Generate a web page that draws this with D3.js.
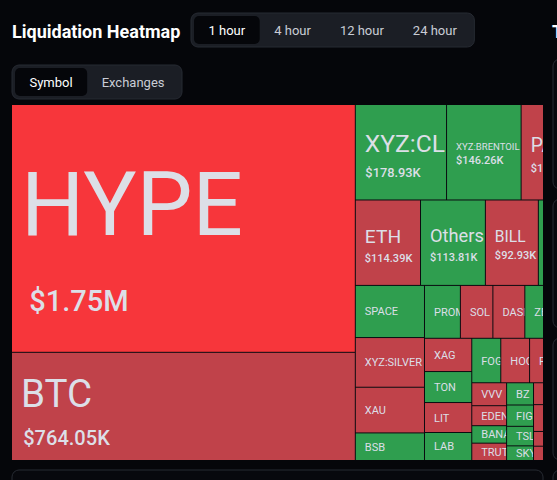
<!DOCTYPE html>
<html>
<head>
<meta charset="utf-8">
<script src="https://cdn.jsdelivr.net/npm/d3@7"></script>
<style>
  html, body { margin: 0; padding: 0; background: #05060a; overflow: hidden; }
  svg { display: block; font-family: Roboto, "Noto Sans", sans-serif; }
</style>
</head>
<body>
<div id="chart"></div>
<script>
// liquidations per symbol, USD (largest first)
const symbols = ["HYPE", "BTC", "XYZ:CL", "XYZ:BRENTOIL", "PAXG", "ETH", "Others", "BILL", "XPL",
  "SPACE", "XYZ:SILVER", "XAU", "BSB", "PROM", "SOL", "DASH", "ZEC", "ASTER",
  "XAG", "TON", "LIT", "LAB", "FOGO", "HOOD", "FARTCOIN", "ENA",
  "VVV", "EDEN", "BANANAS31", "TRUTH", "BZ", "FIGR", "TSLA", "SKY",
  "MON", "PENGU", "AVAX", "SUI", "DOGE", "XRP", "LINK", "WLFI", "PUMP", "XMR", "TAO", "LTC"];
const values = [1750000, 764050, 178930, 146260, 128210, 114390, 113810, 92930, 84500,
  74100, 70600, 64900, 39200, 39000, 35300, 34700, 34500, 32500,
  32300, 30100, 29100, 27200, 26500, 26300, 26000, 26000,
  16400, 14300, 12500, 12400, 12300, 11800, 10800, 8100,
  8000, 8000, 7800, 7600, 7400, 7200, 7000, 6800, 6600, 6400, 6200, 5600];
// share of the liquidations that were longs
const longShare = [0.94, 0.72, 0.22, 0.25, 0.7, 0.68, 0.3, 0.74, 0.3,
  0.2, 0.76, 0.7, 0.28, 0.3, 0.66, 0.7, 0.35, 0.3,
  0.72, 0.3, 0.7, 0.25, 0.3, 0.7, 0.68, 0.7,
  0.7, 0.72, 0.3, 0.7, 0.25, 0.3, 0.3, 0.2,
  0.7, 0.7, 0.7, 0.7, 0.7, 0.7, 0.7, 0.7, 0.7, 0.7, 0.7, 0.7];
const ranges = ["1 hour", "4 hour", "12 hour", "24 hour"];
const views = ["Symbol", "Exchanges"];

const W = 557, H = 480;
const mapBox = {x: 12, y: 105, w: 574, h: 355, visW: 531};

const color = d3.scaleThreshold()
  .domain([0.5, 0.9])
  .range(["#2f9e4f", "#c0424a", "#f7363b"]);

function fmt(v) {
  return v >= 1e6 ? "$" + (v / 1e6).toFixed(2) + "M" : "$" + (v / 1e3).toFixed(2) + "K";
}

const svg = d3.select("#chart").append("svg")
  .attr("width", W).attr("height", H);

// title
svg.append("text")
  .attr("x", 12).attr("y", 38)
  .attr("fill", "#ffffff")
  .style("font-size", "18px").style("font-weight", 700)
  .text("Liquidation Heatmap");
svg.append("text")
  .attr("x", 552).attr("y", 38)
  .attr("fill", "#ffffff")
  .style("font-size", "18px").style("font-weight", 700)
  .text("Top");

// segmented button groups
function buttonGroup(labels, x, y, active) {
  const g = svg.append("g").attr("transform", `translate(${x},${y})`);
  const bg = g.append("rect").attr("y", 0).attr("height", 34).attr("rx", 7)
    .attr("fill", "#1b1e25").attr("stroke", "#262a32");
  let cx = 3;
  labels.forEach(function(d, i) {
    const t = g.append("text")
      .attr("y", 22)
      .attr("text-anchor", "middle")
      .attr("fill", i === active ? "#ffffff" : "#c9cdd5")
      .style("font-size", "13px")
      .text(d);
    const bw = t.node().getComputedTextLength() + 29;
    if (i === active) {
      g.insert("rect", "text").attr("x", cx).attr("y", 3).attr("width", bw).attr("height", 28)
        .attr("rx", 5).attr("fill", "#05060a");
    }
    t.attr("x", cx + bw / 2);
    cx += bw;
  });
  bg.attr("width", cx + 3);
}
buttonGroup(ranges, 191, 13, 0);
buttonGroup(views, 12, 65, 0);

// side / bottom panels
[[553, 59, 130], [553, 199, 129], [553, 338, 122], [553, 470, 40]].forEach(function(p) {
  svg.append("rect").attr("x", p[0]).attr("y", p[1]).attr("width", 40).attr("height", p[2])
    .attr("rx", 7).attr("fill", "#07080d").attr("stroke", "#262a32");
});
svg.append("rect").attr("x", 12).attr("y", 470).attr("width", 531).attr("height", 40)
  .attr("rx", 7).attr("fill", "#07080d").attr("stroke", "#262a32");

// treemap
const root = d3.hierarchy({children: symbols.map((s, i) => ({name: s, value: values[i], longs: longShare[i]}))})
  .sum(d => d.value || 0)
  .sort((a, b) => b.value - a.value);

d3.treemap()
  .tile(d3.treemapSquarify)
  .size([mapBox.w, mapBox.h])
  .paddingInner(1)
  (root);

svg.append("clipPath").attr("id", "mapclip")
  .append("rect").attr("width", mapBox.visW).attr("height", mapBox.h);

const map = svg.append("g")
  .attr("transform", `translate(${mapBox.x},${mapBox.y})`)
  .attr("clip-path", "url(#mapclip)");

map.append("rect").attr("width", mapBox.visW).attr("height", mapBox.h).attr("fill", "#0a0b10");

const cell = map.selectAll("g.cell")
  .data(root.leaves())
  .enter().append("g")
  .attr("class", "cell")
  .attr("transform", d => `translate(${d.x0},${d.y0})`);

cell.append("clipPath")
  .attr("id", (d, i) => "c" + i)
  .append("rect")
  .attr("width", d => d.x1 - d.x0)
  .attr("height", d => d.y1 - d.y0);

cell.append("rect")
  .attr("width", d => d.x1 - d.x0)
  .attr("height", d => d.y1 - d.y0)
  .attr("fill", d => color(d.data.longs));

cell.each(function(d, i) {
  const w = d.x1 - d.x0, h = d.y1 - d.y0;
  const g = d3.select(this).append("g").attr("clip-path", `url(#c${i})`);
  if (h >= 70 && w >= 45) {
    let fs = Math.min(h * 0.36, w * 0.3);
    const name = g.append("text").attr("fill", "#dcdfe7").text(d.data.name)
      .style("font-size", fs + "px");
    const tw = name.node().getComputedTextLength();
    if (tw > w - 10) { fs = fs * (w - 10) / tw; name.style("font-size", fs + "px"); }
    const vfs = Math.max(11, Math.min(fs * 0.52, 29));
    const gap = fs * 0.62;
    const block = fs * 0.71 + gap + vfs * 0.71;
    const top = h / 2 - block / 2 + fs * 0.15;
    name.attr("x", 9).attr("y", top + fs * 0.71);
    g.append("text")
      .attr("x", 9 + Math.max(0, fs - 20) * 0.12)
      .attr("y", top + fs * 0.71 + gap + vfs * 0.71)
      .attr("fill", "#dcdfe7")
      .style("font-size", vfs + "px").style("font-weight", 500)
      .text(fmt(d.value));
  } else {
    g.append("text")
      .attr("x", 9).attr("y", h / 2 + 4)
      .attr("fill", "#dcdfe7")
      .style("font-size", "11px")
      .text(d.data.name);
  }
});
</script>
</body>
</html>
